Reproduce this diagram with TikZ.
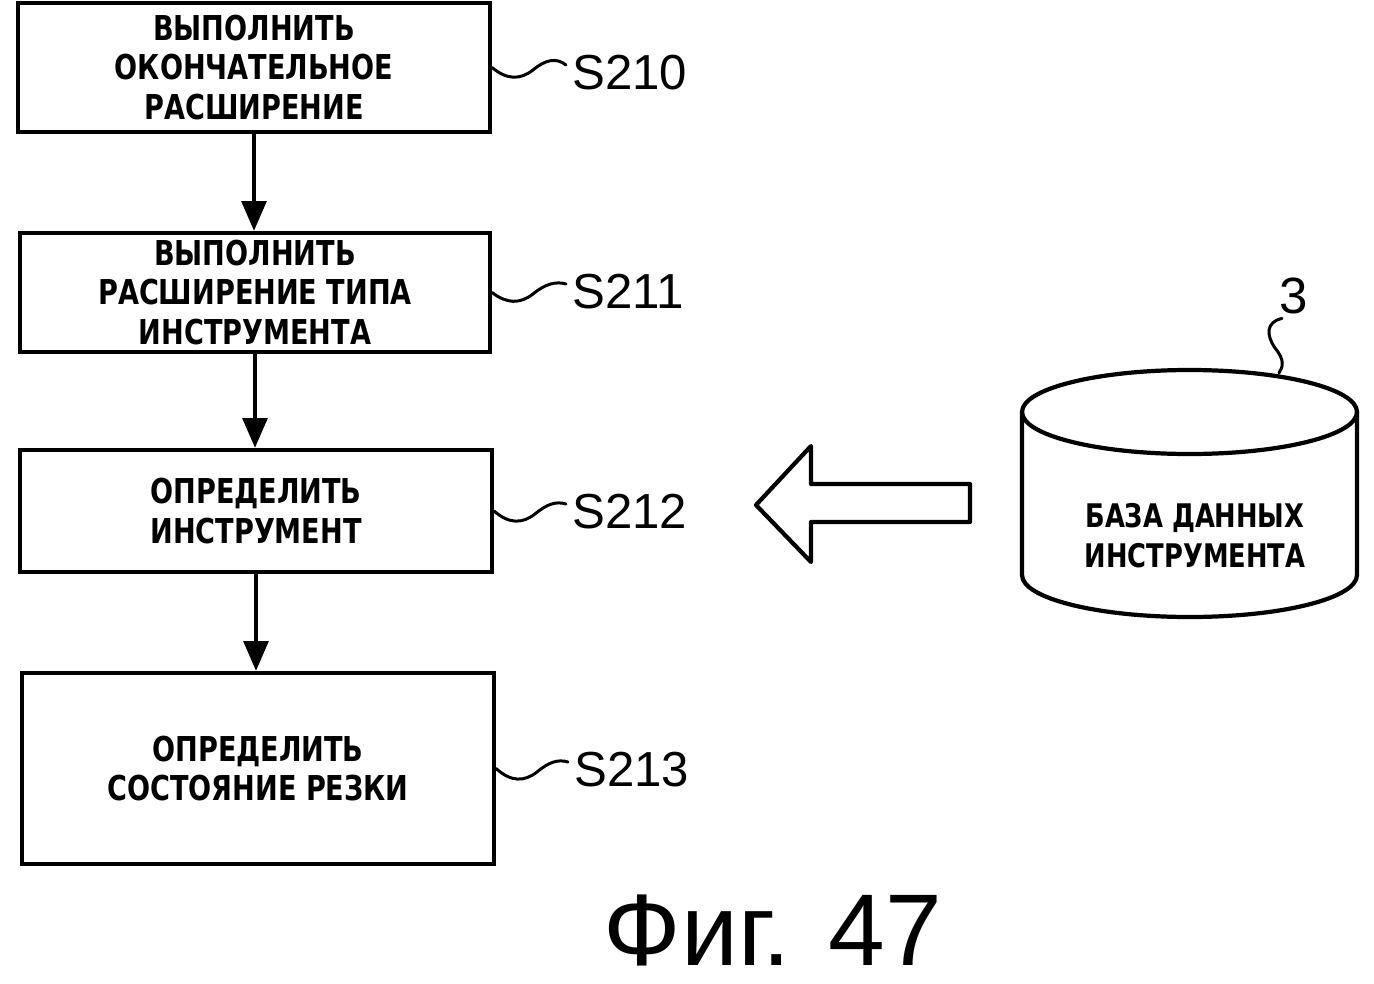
\documentclass[tikz,border=0pt]{standalone}
\usepackage{fontspec}
\setmainfont{Liberation Sans}
\newfontfamily\boxfont{DejaVu Sans Condensed}[FakeStretch=0.88]
\usetikzlibrary{arrows.meta}
\begin{document}
\begin{tikzpicture}[x=0.02cm,y=-0.02cm,
  stepbox/.style={draw, line width=2.4pt, inner sep=0pt, align=center,
    font=\boxfont\bfseries\fontsize{19.5}{22.7}\selectfont},
  lbl/.style={anchor=west, inner sep=0pt, font=\fontsize{28}{30}\selectfont},
  flow/.style={line width=2.4pt, -{Triangle[length=17pt,width=14pt]}},
  sq/.style={line width=1.7pt, line cap=round},
  outline/.style={line width=2.4pt, line join=round}]
\useasboundingbox (0,0) rectangle (1374,984);

% process boxes
\node[stepbox, minimum width=9.44cm, minimum height=2.58cm] (b1) at (254,67.5)
  {ВЫПОЛНИТЬ\\ОКОНЧАТЕЛЬНОЕ\\РАСШИРЕНИЕ};
\node[stepbox, minimum width=9.40cm, minimum height=2.38cm] (b2) at (255,292.5)
  {ВЫПОЛНИТЬ\\РАСШИРЕНИЕ ТИПА\\ИНСТРУМЕНТА};
\node[stepbox, minimum width=9.44cm, minimum height=2.44cm] (b3) at (256,511)
  {ОПРЕДЕЛИТЬ\\ИНСТРУМЕНТ};
\node[stepbox, minimum width=9.44cm, minimum height=3.82cm] (b4) at (258,768.5)
  {ОПРЕДЕЛИТЬ\\СОСТОЯНИЕ РЕЗКИ};

% flow arrows
\draw[flow] (b1.south) -- (b1.south |- b2.north);
\draw[flow] (b2.south) -- (b2.south |- b3.north);
\draw[flow] (b3.south) -- (b3.south |- b4.north);

% step labels
\node[lbl] (l1) at (572,73) {S210};
\node[lbl] (l2) at (572,292) {S211};
\node[lbl] (l3) at (572,512) {S212};
\node[lbl] (l4) at (574,770) {S213};

\draw[sq] (b1.east) .. controls (507,80) and (520,80) .. (533,70)
  .. controls (545,60) and (556,57) .. ([shift={(-6,-8)}]l1.west);
\draw[sq] (b2.east) .. controls (507,304) and (520,304) .. (533,294)
  .. controls (545,284) and (556,281) .. ([shift={(-6,-8)}]l2.west);
\draw[sq] (b3.east) .. controls (509,524) and (522,524) .. (535,514)
  .. controls (547,504) and (556,501) .. ([shift={(-6,-8)}]l3.west);
\draw[sq] (b4.east) .. controls (511,782) and (524,782) .. (537,772)
  .. controls (549,762) and (558,759) .. ([shift={(-6,-8)}]l4.west);

% hollow arrow
\draw[outline] (756,505) -- (811,446) -- (811,484) -- (970,484) -- (970,522)
  -- (811,522) -- (811,562) -- cycle;

% database cylinder
\draw[outline] (1189.5,412) ellipse [x radius=167.5, y radius=42];
\draw[outline] (1022,412) -- (1022,575)
  .. controls (1022,598.2) and (1097,617) .. (1189.5,617)
  .. controls (1282,617) and (1357,598.2) .. (1357,575) -- (1357,412);
\node[inner sep=0pt, align=center, font=\boxfont\bfseries\fontsize{18.5}{22.7}\selectfont]
  (db) at (1195,536) {БАЗА ДАННЫХ\\ИНСТРУМЕНТА};

\node[inner sep=0pt, font=\fontsize{29}{30}\selectfont] (n3) at (1294,296) {3};
\coordinate (c3) at (1279,373);
\draw[sq] ([shift={(-12,4)}]n3.south) .. controls (1266,322) and (1266,335) .. (1275,348)
  .. controls (1285,360) and (1283,367) .. (c3);

% caption
\node[inner sep=0pt, font=\fontsize{58}{60}\selectfont] (cap) at (773,930) {Фиг. 47};
\end{tikzpicture}
\end{document}
